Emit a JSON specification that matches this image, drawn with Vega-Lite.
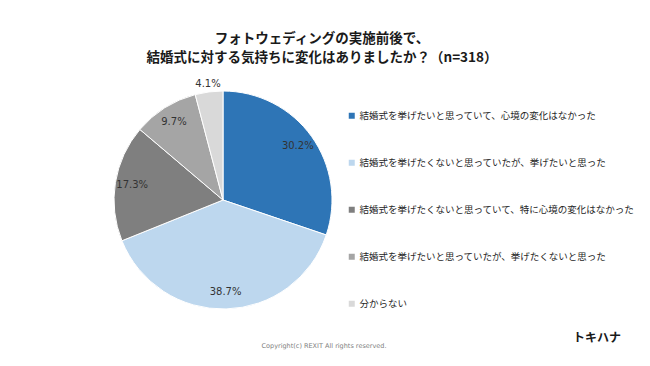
{
  "$schema": "https://vega.github.io/schema/vega-lite/v6.json",
  "width": 446,
  "height": 240,
  "autosize": {"type": "none"},
  "padding": {"left": 0, "top": 80, "right": 204, "bottom": 46},
  "background": "white",
  "title": {
    "text": ["フォトウェディングの実施前後で、", "結婚式に対する気持ちに変化はありましたか？（n=318）"],
    "anchor": "middle",
    "dx": 99,
    "offset": 14,
    "font": "Noto Sans CJK JP",
    "fontSize": 13.5,
    "fontWeight": "bold",
    "color": "#1a1a1a",
    "lineHeight": 19.5
  },
  "config": {"view": {"stroke": null}},
  "data": {
    "values": [
      {"category": "結婚式を挙げたいと思っていて、心境の変化はなかった", "share": 0.302, "order": 1},
      {"category": "結婚式を挙げたくないと思っていたが、挙げたいと思った", "share": 0.387, "order": 2},
      {"category": "結婚式を挙げたくないと思っていて、特に心境の変化はなかった", "share": 0.173, "order": 3},
      {"category": "結婚式を挙げたいと思っていたが、挙げたくないと思った", "share": 0.097, "order": 4},
      {"category": "分からない", "share": 0.041, "order": 5}
    ]
  },
  "layer": [
    {
      "mark": {"type": "arc", "outerRadius": 109, "stroke": "white", "strokeWidth": 1},
      "encoding": {
        "theta": {"field": "share", "type": "quantitative", "stack": true},
        "order": {"field": "order", "type": "quantitative"},
        "color": {
          "field": "category",
          "type": "nominal",
          "sort": null,
          "scale": {
            "domain": [
              "結婚式を挙げたいと思っていて、心境の変化はなかった",
              "結婚式を挙げたくないと思っていたが、挙げたいと思った",
              "結婚式を挙げたくないと思っていて、特に心境の変化はなかった",
              "結婚式を挙げたいと思っていたが、挙げたくないと思った",
              "分からない"
            ],
            "range": ["#2E75B6", "#BDD7EE", "#7F7F7F", "#A5A5A5", "#D9D9D9"]
          },
          "legend": {
            "orient": "none",
            "legendX": 347,
            "legendY": 31,
            "title": null,
            "symbolType": "square",
            "symbolSize": 36,
            "symbolStrokeWidth": 0,
            "labelFont": "Noto Sans CJK JP",
            "labelFontSize": 9.5,
            "labelColor": "#262626",
            "labelLimit": 400,
            "labelOffset": 3,
            "rowPadding": 36,
            "padding": 0
          }
        }
      }
    },
    {
      "mark": {
        "type": "text",
        "radius": {"expr": "datum.share < 0.05 ? 117 : 92"},
        "font": "DejaVu Sans",
        "fontSize": 10,
        "color": "#333333"
      },
      "encoding": {
        "theta": {"field": "share", "type": "quantitative", "stack": true},
        "order": {"field": "order", "type": "quantitative"},
        "text": {"field": "share", "type": "quantitative", "format": ".1%"},
        "detail": {"field": "category", "type": "nominal"}
      }
    },
    {
      "data": {"values": [{"note": "Copyright(c) REXIT All rights reserved."}]},
      "mark": {"type": "text", "font": "DejaVu Sans", "fontSize": 6.5, "color": "#808080", "align": "center", "baseline": "middle"},
      "encoding": {"text": {"field": "note"}, "x": {"value": 324}, "y": {"value": 266}}
    },
    {
      "data": {"values": [{"logo": "トキハナ"}]},
      "mark": {"type": "text", "font": "Noto Sans CJK JP", "fontSize": 12, "fontWeight": "bold", "color": "#1a1a1a", "align": "center", "baseline": "middle"},
      "encoding": {"text": {"field": "logo"}, "x": {"value": 597}, "y": {"value": 258}}
    }
  ]
}
